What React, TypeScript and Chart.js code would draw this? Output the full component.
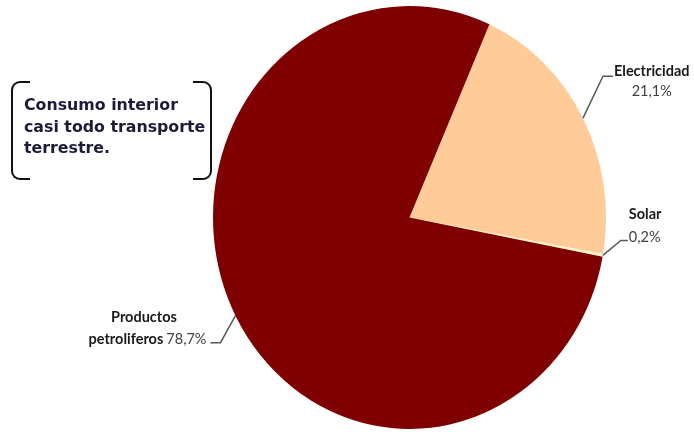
import React, { useEffect, useRef } from "react";
import { Chart, registerables } from "chart.js";

Chart.register(...registerables);

const categories = ["Electricidad", "Solar", "Productos petroliferos"];
const nameLines = [["Electricidad"], ["Solar"], ["Productos", "petroliferos"]];
const values = [21.1, 0.2, 78.7];
const percentLabels = ["21,1%", "0,2%", "78,7%"];
const colors = ["#FFCC99", "#FFF3C4", "#7F0000"];
const noteLines = ["Consumo interior", "casi todo transporte", "terrestre."];

const STRETCH = 1.076;

const stretchPlugin = {
  id: "stretch",
  beforeDatasetsDraw(chart: any) {
    const ctx = chart.ctx;
    const a = chart.chartArea;
    const cx = (a.left + a.right) / 2;
    const cy = (a.top + a.bottom) / 2;
    ctx.save();
    ctx.translate(cx, cy);
    ctx.scale(1, STRETCH);
    ctx.translate(-cx, -cy);
  },
  afterDatasetsDraw(chart: any) {
    chart.ctx.restore();
  },
};

const labelPlugin = {
  id: "leaderLabels",
  afterDraw(chart: any) {
    const ctx = chart.ctx;
    const meta = chart.getDatasetMeta(0);
    const boldFont = "bold 14.5px Lato, 'DejaVu Sans', sans-serif";
    const normFont = "14.5px Lato, 'DejaVu Sans', sans-serif";
    meta.data.forEach((arc: any, i: number) => {
      const mid = (arc.startAngle + arc.endAngle) / 2;
      const R = arc.outerRadius;
      const ex = arc.x + Math.cos(mid) * R;
      const ey = arc.y + Math.sin(mid) * R * STRETCH;
      let elbow: [number, number], end: [number, number];
      if (i === 0) {
        elbow = [ex + 20, ey - 42];
        end = [elbow[0] + 10, elbow[1]];
      } else if (i === 1) {
        elbow = [ex + 18, ey - 15];
        end = [elbow[0] + 7, elbow[1]];
      } else {
        elbow = [ex - 15, ey + 27];
        end = [elbow[0] - 10, elbow[1]];
      }
      ctx.save();
      ctx.strokeStyle = "#595959";
      ctx.lineWidth = 1.5;
      ctx.beginPath();
      ctx.moveTo(ex, ey);
      ctx.lineTo(elbow[0], elbow[1]);
      ctx.lineTo(end[0], end[1]);
      ctx.stroke();
      ctx.textBaseline = "middle";
      if (i === 0) {
        ctx.font = boldFont;
        ctx.fillStyle = "#1a1a1a";
        ctx.textAlign = "left";
        const x0 = end[0] + 1;
        const w = ctx.measureText(nameLines[i][0]).width;
        ctx.fillText(nameLines[i][0], x0, end[1] - 5);
        ctx.font = normFont;
        ctx.fillStyle = "#404040";
        ctx.textAlign = "center";
        ctx.fillText(percentLabels[i], x0 + w / 2, end[1] + 15);
      } else if (i === 1) {
        ctx.font = boldFont;
        ctx.fillStyle = "#1a1a1a";
        ctx.textAlign = "left";
        const x0 = end[0] + 1;
        ctx.fillText(nameLines[i][0], x0, end[1] - 26);
        ctx.font = normFont;
        ctx.fillStyle = "#404040";
        ctx.fillText(percentLabels[i], x0, end[1] - 3);
      } else {
        const xr = end[0] - 4;
        const yb = end[1] - 3;
        ctx.font = normFont;
        ctx.fillStyle = "#404040";
        ctx.textAlign = "right";
        const pw = ctx.measureText(percentLabels[i]).width;
        ctx.fillText(percentLabels[i], xr, yb);
        ctx.font = boldFont;
        ctx.fillStyle = "#1a1a1a";
        const nx = xr - pw - 3;
        const nw = ctx.measureText(nameLines[i][1]).width;
        ctx.fillText(nameLines[i][1], nx, yb);
        ctx.textAlign = "center";
        ctx.fillText(nameLines[i][0], nx - nw / 2 + 18, yb - 22);
      }
      ctx.restore();
    });
  },
};

export default function App() {
  const ref = useRef<HTMLCanvasElement | null>(null);
  useEffect(() => {
    document.body.style.margin = "0";
    const chart = new Chart(ref.current as HTMLCanvasElement, {
      type: "pie",
      data: {
        labels: categories,
        datasets: [
          {
            data: values,
            backgroundColor: colors,
            borderWidth: 0,
            clip: false as any,
          },
        ],
      },
      options: {
        responsive: false,
        animation: false,
        rotation: 24,
        layout: { padding: { left: 125, right: 0, top: 21, bottom: 18 } },
        plugins: {
          legend: { display: false },
          tooltip: { enabled: false },
        },
      },
      plugins: [stretchPlugin, labelPlugin],
    });
    return () => chart.destroy();
  }, []);

  const bracketBase: React.CSSProperties = {
    position: "absolute",
    top: 81,
    width: 19,
    height: 99,
    border: "2px solid #111",
    boxSizing: "border-box",
  };

  return (
    <div style={{ position: "relative", width: 694, height: 432, background: "#fff", overflow: "hidden" }}>
      <canvas ref={ref} width={694} height={432} style={{ position: "absolute", left: 0, top: 0, width: 694, height: 432 }} />
      <div style={{ ...bracketBase, left: 11, borderRight: "none", borderRadius: "9px 0 0 9px" }} />
      <div style={{ ...bracketBase, left: 193, borderLeft: "none", borderRadius: "0 9px 9px 0" }} />
      <div
        style={{
          position: "absolute",
          left: 24,
          top: 94,
          font: "bold 15.8px 'DejaVu Sans', sans-serif",
          lineHeight: "21.5px",
          color: "#1c1c3a",
          whiteSpace: "nowrap",
        }}
      >
        {noteLines.map((l, i) => (
          <div key={i}>{l}</div>
        ))}
      </div>
    </div>
  );
}
